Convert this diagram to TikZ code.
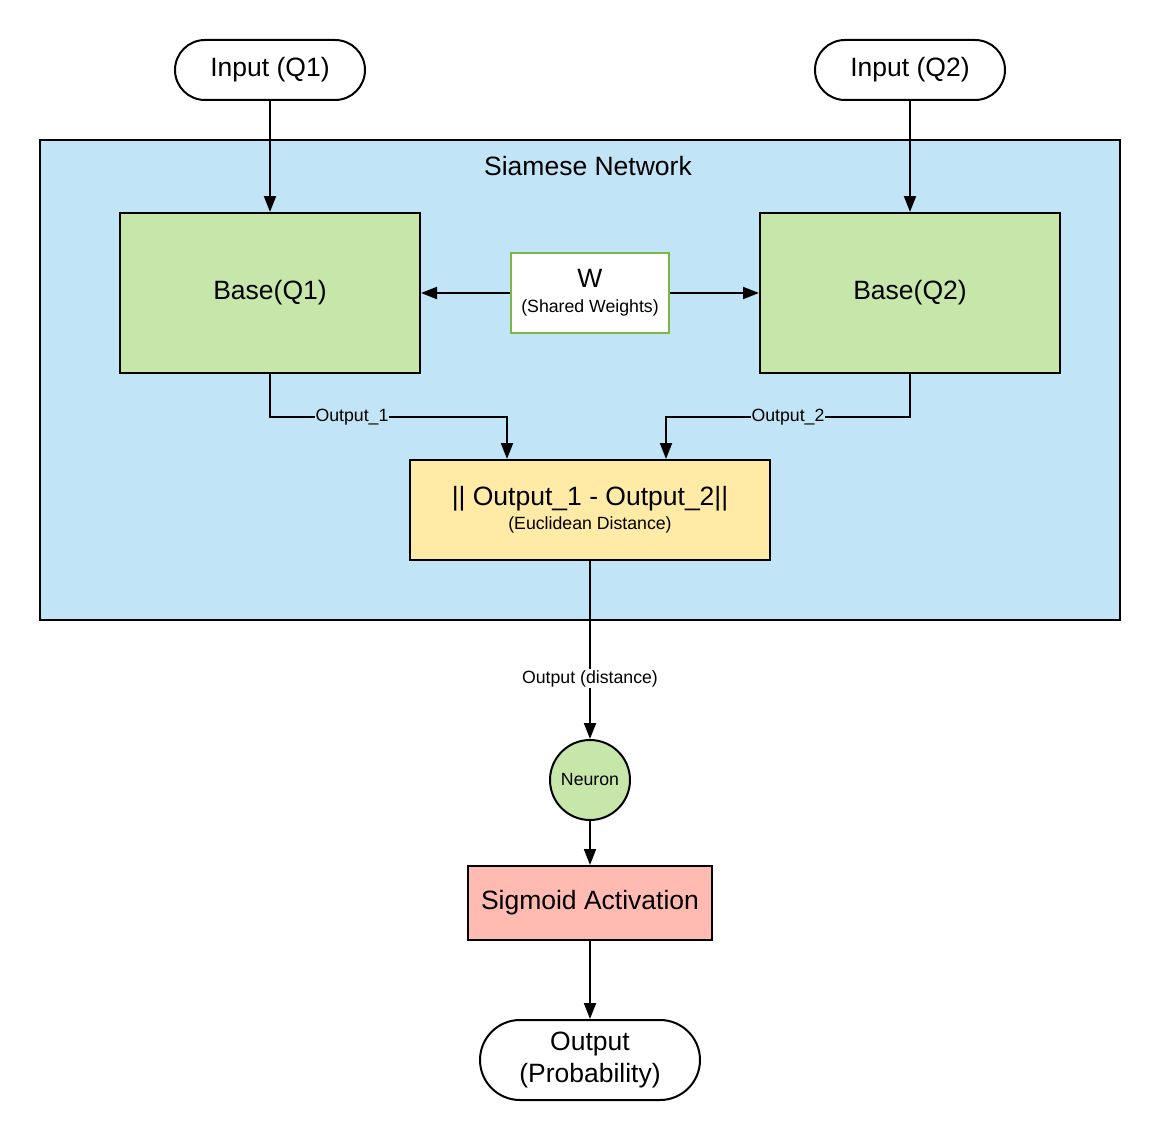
\documentclass[tikz,border=0pt]{standalone}
\usepackage{fontspec}
\setmainfont{Liberation Sans}
\usetikzlibrary{calc,positioning,arrows.meta}

\definecolor{siamblue}{RGB}{193,228,246}
\definecolor{basegreen}{RGB}{199,231,170}
\definecolor{wgreen}{RGB}{122,182,72}
\definecolor{distyellow}{RGB}{255,234,166}
\definecolor{sigred}{RGB}{255,187,177}

\begin{document}
\begin{tikzpicture}[x=1pt,y=-1pt,
    bigtext/.style={font=\fontsize{26.5}{32}\selectfont},
    smalltext/.style={font=\fontsize{17.7}{21}\selectfont},
    capsule/.style={draw,line width=2pt,fill=white,inner sep=0pt,bigtext,align=center},
    block/.style={draw,line width=2pt,inner sep=0pt,bigtext,align=center},
    arrow/.style={line width=2pt,-{Triangle[length=16pt,width=12pt]}},
    lbl/.style={smalltext,fill=siamblue,inner sep=1pt}]
    \useasboundingbox (0,0) rectangle (1160,1140);

    % the network frame
    \node[draw,line width=2pt,fill=siamblue,minimum width=1080pt,minimum height=480pt,inner sep=0pt] (siam) at (580,380) {};
    \node[bigtext] (title) at (588,166) {Siamese Network};

    % inputs
    \node[capsule,rounded corners=30pt,minimum width=190pt,minimum height=60pt] (in1) at (270,70) {Input (Q1)};
    \node[capsule,rounded corners=30pt,minimum width=190pt,minimum height=60pt] (in2) at (910,70) {Input (Q2)};

    % twin bases and shared weights
    \node[block,fill=basegreen,minimum width=300pt,minimum height=160pt] (base1) at (270,293) {Base(Q1)};
    \node[block,fill=basegreen,minimum width=300pt,minimum height=160pt] (base2) at (910,293) {Base(Q2)};
    \node[block,draw=wgreen,fill=white,minimum width=158pt,minimum height=80pt] (w) at (590,293)
        {W\\[-7pt]{\fontsize{17.7}{24.5}\selectfont (Shared Weights)}};

    % distance
    \node[block,fill=distyellow,minimum width=360pt,minimum height=100pt] (dist) at (590,510)
        {|| Output\_1 - Output\_2||\\[-8pt]{\fontsize{17.7}{24}\selectfont (Euclidean Distance)}};

    % head
    \node[draw,line width=2pt,fill=basegreen,circle,minimum size=80pt,inner sep=0pt,smalltext] (neuron) at (590,780) {\raisebox{2pt}{Neuron}};
    \node[block,fill=sigred,minimum width=244pt,minimum height=74pt] (sig) at (590,903) {Sigmoid Activation};
    \node[capsule,rounded corners=40pt,minimum width=220pt,minimum height=80pt] (out) at (590,1060) {Output\\(Probability)};

    \draw[arrow] (in1.south) -- (base1.north);
    \draw[arrow] (in2.south) -- (base2.north);
    \draw[arrow] (w.west) -- (base1.east);
    \draw[arrow] (w.east) -- (base2.west);
    \draw[arrow] (base1.south) -- ++(0,43) -| node[lbl,pos=0.173] {Output\_1} ([xshift=-83pt]dist.north);
    \draw[arrow] (base2.south) -- ++(0,43) -| node[lbl,pos=0.25] {Output\_2} ([xshift=76pt]dist.north);
    \draw[arrow] (dist.south) -- node[lbl,fill=white,pos=0.66] {Output (distance)} (neuron.north);
    \draw[arrow] (neuron.south) -- (sig.north);
    \draw[arrow] (sig.south) -- (out.north);
\end{tikzpicture}
\end{document}
